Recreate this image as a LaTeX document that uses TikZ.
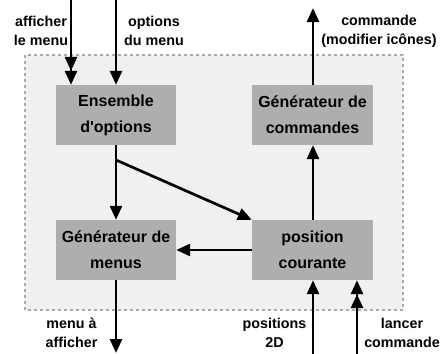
\documentclass[tikz,border=0pt]{standalone}
\usepackage{fontspec}
\setmainfont{Liberation Sans}
\usetikzlibrary{arrows.meta}
\definecolor{boxgray}{HTML}{AEAEAE}
\definecolor{framefill}{HTML}{F0F0F0}
\definecolor{framedraw}{HTML}{AAAAAA}
\begin{document}
\begin{tikzpicture}[x=1pt,y=-1pt,
  blk/.style={fill=boxgray,draw=none,minimum width=120pt,minimum height=60pt,inner sep=0pt,
    align=center,font=\bfseries\fontsize{16}{26}\selectfont},
  lbl/.style={align=center,inner sep=0pt,font=\bfseries\fontsize{14.3}{19}\selectfont},
  conn/.style={line width=2.7pt,-{Triangle[width=12pt,length=14pt]}},
  dconn/.style={line width=2.7pt,-{Triangle[width=12pt,length=14pt]Triangle[width=12pt,length=14pt]}}]
\useasboundingbox (0,0) rectangle (440,354);
\fill[framefill] (25,55) rectangle (403,310);
\draw[framedraw,line width=1.5pt,dash pattern=on 3pt off 3pt] (25,55) rectangle (403,310);

\node[blk] (opts) at (116,115) {Ensemble\\d\textquotesingle options};
\node[blk,minimum width=121pt] (gcmd) at (312.5,115) {Générateur de\\commandes};
\node[blk] (gmenu) at (116,250) {Générateur de\\menus};
\node[blk,minimum width=121pt] (pos) at (312.5,250) {position\\courante};

\coordinate (a1) at (71,0);
\coordinate (a2) at (116,0);
\coordinate (c1) at (313,8);
\coordinate (m1) at (116,353);
\coordinate (p1) at (313,354);
\coordinate (l1) at (357,354);
\coordinate (d0) at (116,160);

\node[lbl] (la1) at (41,31) {afficher\\le menu};
\node[lbl] (la2) at (154,31) {options\\du menu};
\node[lbl] (la3) at (379,31.5) {commande\\(modifier icônes)};
\node[lbl] (la4) at (71.5,332.5) {menu à\\afficher};
\node[lbl] (la5) at (274.5,332.5) {positions\\2D};
\node[lbl] (la6) at (402,332.5) {lancer\\commande};

\draw[dconn] (a1) -- (a1 |- opts.north);
\draw[conn] (a2) -- (a2 |- opts.north);
\draw[conn] (c1 |- gcmd.north) -- (c1);
\draw[conn] (c1 |- pos.north) -- (c1 |- gcmd.south);
\draw[conn] (opts.south) -- (gmenu.north);
\draw[conn] (d0) -- (pos.north west);
\draw[conn] (pos.west) -- (gmenu.east);
\draw[conn] (gmenu.south) -- (m1);
\draw[conn] (p1) -- (p1 |- pos.south);
\draw[dconn] (l1) -- (l1 |- pos.south);
\end{tikzpicture}
\end{document}
